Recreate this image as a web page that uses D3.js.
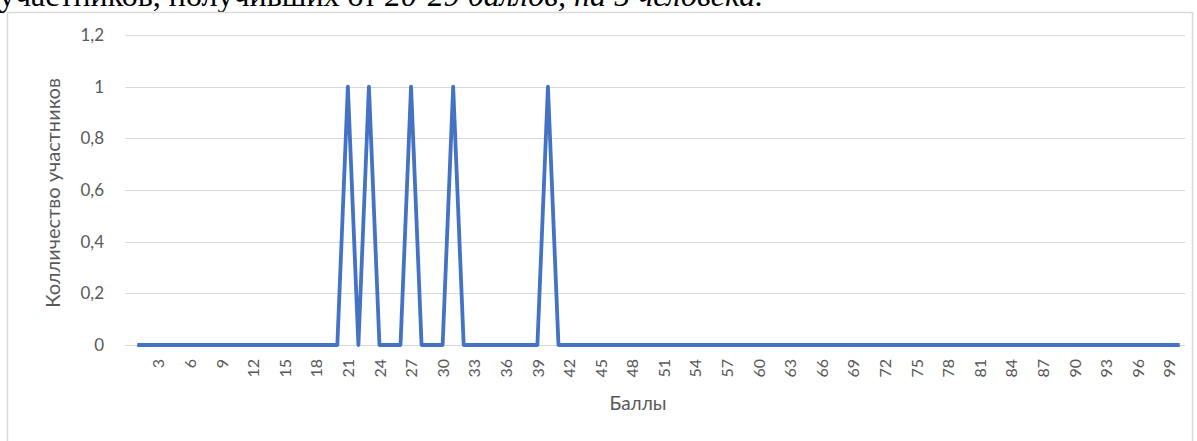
<!DOCTYPE html>
<html>
<head>
<meta charset="utf-8">
<script src="https://cdn.jsdelivr.net/npm/d3@7"></script>
<style>
html,body{margin:0;padding:0;background:#fff;}
svg{display:block;}
</style>
</head>
<body>
<svg id="chart" width="1197" height="441"></svg>
<script>
// Data
const scores = [1,2,3,4,5,6,7,8,9,10,11,12,13,14,15,16,17,18,19,20,
  21,22,23,24,25,26,27,28,29,30,31,32,33,34,35,36,37,38,39,40,
  41,42,43,44,45,46,47,48,49,50,51,52,53,54,55,56,57,58,59,60,
  61,62,63,64,65,66,67,68,69,70,71,72,73,74,75,76,77,78,79,80,
  81,82,83,84,85,86,87,88,89,90,91,92,93,94,95,96,97,98,99,100];
const counts = [0,0,0,0,0,0,0,0,0,0,0,0,0,0,0,0,0,0,0,0,
  1,0,1,0,0,0,1,0,0,0,1,0,0,0,0,0,0,0,0,1,
  0,0,0,0,0,0,0,0,0,0,0,0,0,0,0,0,0,0,0,0,
  0,0,0,0,0,0,0,0,0,0,0,0,0,0,0,0,0,0,0,0,
  0,0,0,0,0,0,0,0,0,0,0,0,0,0,0,0,0,0,0,0];
const xTickLabels = [3,6,9,12,15,18,21,24,27,30,33,36,39,42,45,48,51,54,57,60,63,66,69,72,75,78,81,84,87,90,93,96,99];
const yTicks = [0,0.2,0.4,0.6,0.8,1,1.2];
const yTitle = "Колличество участников";
const xTitle = "Баллы";
const topText1 = "участников, получивших от ";
const topText2 = "20-29 баллов, на 5 человека.";

const svg = d3.select("#chart");
const font = "Lato, 'Open Sans', sans-serif";
const grey = "#595959";

// top cut-off paragraph text
const tt = svg.append("text").attr("x", -1).attr("y", 6)
  .attr("font-family", "'Liberation Serif', 'Times New Roman', serif")
  .attr("font-size", 32).attr("fill", "#000");
tt.append("tspan").text(topText1);
tt.append("tspan").attr("font-style", "italic").text(topText2);

// chart frame
svg.append("rect").attr("x", 7.5).attr("y", 12.5).attr("width", 1185).attr("height", 440)
  .attr("fill", "#fff").attr("stroke", "#d9d9d9").attr("stroke-width", 1.5);

const x = d3.scalePoint().domain(scores).range([132, 1185]).padding(0.5);
const y = d3.scaleLinear().domain([0, 1.2]).range([345, 35]);

// gridlines
svg.append("g").selectAll("line").data(yTicks).join("line")
  .attr("x1", 125).attr("x2", 1185)
  .attr("y1", d => Math.round(y(d)) + 0.5).attr("y2", d => Math.round(y(d)) + 0.5)
  .attr("stroke", "#d9d9d9").attr("stroke-width", 1.2);

// y axis labels
const fmt = d => String(d).replace(".", ",");
const yAxis = d3.axisLeft(y).tickValues(yTicks).tickFormat(fmt).tickSize(0).tickPadding(0);
const gy = svg.append("g").attr("transform", "translate(104,0)").call(yAxis);
gy.select(".domain").remove();
gy.selectAll("text").attr("font-family", font).attr("font-size", 17).attr("fill", grey);

// x axis labels
const xAxis = d3.axisBottom(x).tickValues(xTickLabels).tickSize(0).tickPadding(0);
const gx = svg.append("g").attr("transform", "translate(0,359)").call(xAxis);
gx.select(".domain").remove();
gx.selectAll("text")
  .attr("font-family", font).attr("font-size", 16).attr("fill", grey)
  .attr("transform", "rotate(-90)")
  .attr("x", 0).attr("y", 0).attr("dy", "0.35em")
  .attr("text-anchor", "end");

// line
const line = d3.line().x((d, i) => x(scores[i])).y(d => y(d));
svg.append("path").datum(counts)
  .attr("d", line).attr("fill", "none")
  .attr("stroke", "#4472C4").attr("stroke-width", 3.8)
  .attr("stroke-linejoin", "round").attr("stroke-linecap", "butt");

// axis titles
svg.append("text").attr("x", 638).attr("y", 410).attr("text-anchor", "middle")
  .attr("font-family", font).attr("font-size", 19).attr("fill", grey).text(xTitle);
svg.append("text").attr("transform", "translate(60,193) rotate(-90)").attr("text-anchor", "middle")
  .attr("font-family", font).attr("font-size", 20).attr("fill", grey).text(yTitle);
</script>
</body>
</html>
